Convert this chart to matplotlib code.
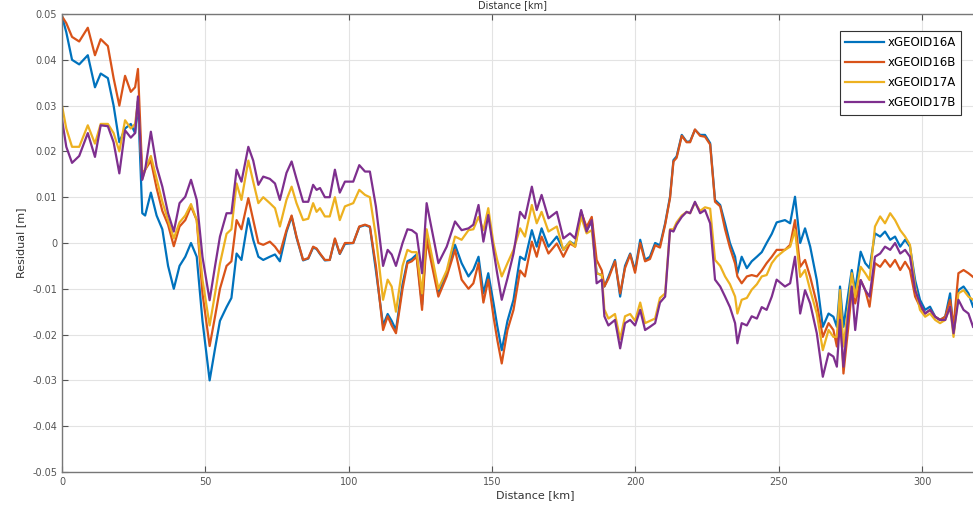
import numpy as np
import matplotlib
matplotlib.use("Agg")
import matplotlib.pyplot as plt

# distance along profile [km]
distance = [0, 1.5, 3.5, 6, 9, 11.5, 13.5, 16, 18, 20, 22, 24, 25.5, 26.5, 28, 29, 31, 33, 35, 37, 39, 41, 43, 45, 47, 49, 51.5, 53.4,
            55.1, 57.4, 59.1, 60.9, 62.6, 65.0, 66.7, 68.5, 70.2, 72.5, 74.3, 76.0, 78.3, 80.1, 81.8, 84.1, 85.9, 87.6, 88.8, 90.0,
            91.7, 93.4, 95.2, 96.9, 98.7, 101.6, 103.7, 105.7, 107.4, 109.5,
            112.0, 113.6, 115.0, 116.5, 118.8, 120.5, 122.0, 123.7, 125.6, 127.2,
            131.3, 134.2, 137.1, 139.4, 141.8, 143.5, 145.3, 147.0, 148.7, 150.5, 151.8, 153.4, 155.4, 157.5, 159.8, 161.5,
            163.9, 165.6, 167.3, 169.7, 172.6, 174.9, 177.2, 179.0, 181.1, 183.0, 184.8, 186.5, 188.3, 189.2,
            190.6, 192.9, 194.7, 196.4, 198.2, 199.9, 201.7, 203.4, 205.1, 206.9, 208.6, 210.4, 212.1, 213.3, 214.4, 216.2,
            217.9, 219.1, 220.8, 222.6, 224.3, 226.1, 227.8, 229.6, 231.3, 233.0, 234.8, 235.6, 237.1, 238.9, 240.6, 242.4,
            244.1, 245.8, 247.6, 249.3,
            252.2, 254.0, 255.7, 257.5, 259.2, 261.0, 263.3, 265.4, 267.4, 269.1, 270.3, 271.4, 272.6, 274.3, 275.5, 276.7,
            278.6, 280.2, 281.7, 283.6, 285.4, 287.1, 288.9, 290.6, 292.4, 294.1, 295.8, 297.6, 299.3, 301.1, 302.8, 304.6,
            306.3, 308.1, 309.8, 311.0, 312.7, 314.5, 316.2, 317.8]

res_16a = [0.0495, 0.046, 0.040, 0.039, 0.041, 0.034, 0.037, 0.036, 0.030, 0.022, 0.025, 0.026, 0.024, 0.031, 0.0065, 0.006,
           0.011, 0.006, 0.003, -0.005, -0.010, -0.005, -0.003, 0.000, -0.003, -0.017, -0.030, -0.023,
           -0.017, -0.014, -0.012, -0.0023, -0.0037, 0.0054, 0.0007, -0.003, -0.0037, -0.0030, -0.0025, -0.004, 0.0024, 0.0058,
           0.0012, -0.0038, -0.0034, -0.001, -0.0013, -0.0024, -0.0038, -0.0037, 0.0008, -0.0024, -0.0002, 0.0, 0.0035, 0.0039,
           0.0035, -0.006,
           -0.018, -0.0155, -0.017, -0.019, -0.009, -0.004, -0.0035, -0.0025, -0.0135, 0.002,
           -0.011, -0.0066, -0.0004, -0.0044, -0.0073, -0.0058, -0.003, -0.011, -0.0066, -0.013, -0.018, -0.0234, -0.017, -0.0124,
           -0.003, -0.0037, 0.0028, -0.0008, 0.0032, -0.0008, 0.0014, -0.0015, 0.0003, -0.0004, 0.0068, 0.0028, 0.0047, -0.0066,
           -0.007, -0.0095,
           -0.0074, -0.0037, -0.0117, -0.005, -0.0023, -0.006, 0.0007, -0.0037, -0.003, 0.0, -0.0005, 0.0043, 0.0101, 0.0181,
           0.0189, 0.0236, 0.0221, 0.0222, 0.0247, 0.0236, 0.0236, 0.0218, 0.0094, 0.0083, 0.0043, 0.0, -0.003, -0.0066, -0.003,
           -0.0055, -0.004, -0.003, -0.002, 0.0, 0.002, 0.0045,
           0.005, 0.0043, 0.0101, 0.0, 0.0032, -0.0008, -0.0081, -0.0183, -0.0154, -0.0161, -0.0183, -0.0095, -0.0183, -0.011,
           -0.0059, -0.0103, -0.0019, -0.0044, -0.0055, 0.0021, 0.0014, 0.0025, 0.0007, 0.0014, -0.0008, 0.0007, -0.0008,
           -0.0081, -0.0124, -0.0146, -0.0139, -0.0161, -0.0168, -0.0161, -0.011, -0.0197, -0.0103, -0.0095, -0.011, -0.0139]

res_16b = [0.0495, 0.048, 0.045, 0.044, 0.047, 0.041, 0.0445, 0.043, 0.036, 0.030, 0.0365, 0.033, 0.034, 0.038, 0.015, 0.016,
           0.018, 0.012, 0.007, 0.004, -0.0007, 0.0036, 0.005, 0.008, 0.005, -0.011, -0.0225, -0.016,
           -0.010, -0.005, -0.004, 0.005, 0.003, 0.0098, 0.005, 0.0, -0.0004, 0.0003, -0.0008, -0.0023, 0.0028, 0.006, 0.0014,
           -0.0037, -0.0033, -0.0008, -0.0012, -0.0023, -0.0037, -0.0037, 0.001, -0.0023, 0.0, 0.0, 0.0036, 0.004, 0.0036, -0.005,
           -0.019, -0.016, -0.018, -0.0197, -0.010, -0.0044, -0.004, -0.003, -0.0146, 0.0007,
           -0.0117, -0.0073, -0.0015, -0.008, -0.010, -0.0088, -0.0044, -0.013, -0.008, -0.016, -0.021, -0.0263, -0.019, -0.0146,
           -0.006, -0.0073, 0.0003, -0.003, 0.0014, -0.0023, -0.0001, -0.003, -0.0001, -0.0008, 0.0068, 0.0035, 0.0057, -0.0037,
           -0.006, -0.0095,
           -0.0078, -0.004, -0.011, -0.0055, -0.0025, -0.0065, 0.0, -0.004, -0.0035, -0.0005, -0.001, 0.004, 0.0098, 0.0178,
           0.0186, 0.0234, 0.022, 0.022, 0.0248, 0.0234, 0.0232, 0.0215, 0.009, 0.008, 0.003, -0.001, -0.0045, -0.0073, -0.0088,
           -0.0073, -0.007, -0.0073, -0.006, -0.0044, -0.003, -0.0015,
           -0.0015, -0.0004, 0.005, -0.0052, -0.0037, -0.0074, -0.0132, -0.0205, -0.0175, -0.019, -0.0226, -0.0139, -0.0285,
           -0.0183, -0.0103, -0.0132, -0.0081, -0.0103, -0.0139, -0.0044, -0.0052, -0.0037, -0.0052, -0.0037, -0.0059, -0.0041,
           -0.0059, -0.0117, -0.0139, -0.0154, -0.0146, -0.0161, -0.0168, -0.0161, -0.0124, -0.0183, -0.0066, -0.0059, -0.0066,
           -0.0074]

res_17a = [0.030, 0.025, 0.021, 0.021, 0.0257, 0.0217, 0.026, 0.026, 0.024, 0.020, 0.0268, 0.025, 0.026, 0.031, 0.014, 0.016,
           0.019, 0.014, 0.009, 0.005, 0.001, 0.0045, 0.006, 0.0085, 0.005, -0.008, -0.018, -0.011,
           -0.0045, 0.002, 0.003, 0.013, 0.0094, 0.018, 0.0134, 0.0087, 0.010, 0.0087, 0.0076, 0.0036, 0.0094, 0.0123, 0.0087,
           0.005, 0.0053, 0.0087, 0.0068, 0.0076, 0.0058, 0.0058, 0.010, 0.005, 0.008, 0.0087, 0.0116, 0.0105, 0.010, 0.0014,
           -0.0124, -0.008, -0.0095, -0.015, -0.005, -0.0015, -0.002, -0.002, -0.011, 0.003,
           -0.010, -0.006, 0.0014, 0.0007, 0.0028, 0.003, 0.0057, 0.0028, 0.0076, 0.0, -0.0037, -0.0073, -0.0044, -0.0015,
           0.0032, 0.0014, 0.0083, 0.0043, 0.0068, 0.0025, 0.0036, -0.0015, 0.0003, -0.0008, 0.0057, 0.0021, 0.0028, -0.0066,
           -0.007, -0.0145,
           -0.0165, -0.0155, -0.021, -0.016, -0.0155, -0.017, -0.013, -0.0175, -0.017, -0.0165, -0.012, -0.011, 0.003, 0.003,
           0.0045, 0.006, 0.0068, 0.0065, 0.0088, 0.007, 0.0078, 0.0075, -0.0037, -0.005, -0.0073, -0.009, -0.0117, -0.0154,
           -0.0124, -0.012, -0.0102, -0.009, -0.0073, -0.007, -0.0044, -0.003,
           -0.0015, -0.0008, 0.0028, -0.0074, -0.0059, -0.0103, -0.0154, -0.0234, -0.019, -0.0205, -0.0205, -0.0103, -0.0226,
           -0.0139, -0.0066, -0.0117, -0.0052, -0.0066, -0.0081, 0.0036, 0.0058, 0.0043, 0.0065, 0.005, 0.0028, 0.0014, -0.0004,
           -0.0095, -0.0146, -0.0161, -0.0154, -0.0168, -0.0175, -0.0168, -0.0139, -0.0205, -0.011, -0.0103, -0.0117, -0.0124]

res_17b = [0.027, 0.021, 0.0175, 0.019, 0.024, 0.0188, 0.0257, 0.0255, 0.022, 0.0152, 0.0246, 0.023, 0.024, 0.032, 0.0138,
           0.016, 0.0243, 0.0167, 0.0123, 0.0065, 0.0025, 0.0087, 0.0101, 0.0138, 0.0094, -0.003, -0.0125, -0.005,
           0.0014, 0.0065, 0.0065, 0.016, 0.0134, 0.021, 0.018, 0.0127, 0.0145, 0.014, 0.013, 0.0094, 0.0153, 0.0178, 0.014,
           0.009, 0.009, 0.0127, 0.0116, 0.012, 0.010, 0.010, 0.016, 0.011, 0.0134, 0.0134, 0.017, 0.0156, 0.0156, 0.008,
           -0.005, -0.0015, -0.0025, -0.005, 0.0, 0.003, 0.0028, 0.002, -0.0066, 0.0087,
           -0.0044, -0.0008, 0.0047, 0.0028, 0.0032, 0.004, 0.0083, 0.0003, 0.0061, -0.0015, -0.0066, -0.0124, -0.0077, -0.0023,
           0.0068, 0.0054, 0.0123, 0.0072, 0.0105, 0.0054, 0.0068, 0.001, 0.0021, 0.001, 0.0072, 0.0025, 0.005, -0.0088,
           -0.008, -0.016,
           -0.018, -0.0168, -0.023, -0.0175, -0.0168, -0.018, -0.0146, -0.019, -0.0183, -0.0175, -0.013, -0.0117, 0.0028, 0.0025,
           0.004, 0.0057, 0.0068, 0.0065, 0.009, 0.0065, 0.0072, 0.0043, -0.008, -0.0095, -0.0117, -0.014, -0.0175, -0.0219,
           -0.0175, -0.018, -0.016, -0.0165, -0.014, -0.0146, -0.0117, -0.008,
           -0.0095, -0.0088, -0.003, -0.0154, -0.0103, -0.0132, -0.0197, -0.0292, -0.0241, -0.0248, -0.027, -0.0168, -0.027,
           -0.0154, -0.0095, -0.019, -0.0081, -0.0103, -0.0117, -0.003, -0.0023, -0.0008, -0.0015, 0.0, -0.0023, -0.0015, -0.003,
           -0.0103, -0.0132, -0.0154, -0.0146, -0.0161, -0.0168, -0.0168, -0.0139, -0.0197, -0.0124, -0.0146, -0.0154, -0.0183]

labels = ["xGEOID16A", "xGEOID16B", "xGEOID17A", "xGEOID17B"]
colors = ["#0072BD", "#D95319", "#EDB120", "#7E2F8E"]

fig = plt.figure(figsize=(9.73, 5.12), dpi=100)
# axes runs past the right edge, like the cropped screenshot
ax = fig.add_axes([62/973, 1 - 472/512, 946/973, 458/512])

for res, lab, col in zip([res_16a, res_16b, res_17a, res_17b], labels, colors):
    ax.plot(distance, res, color=col, lw=1.6, label=lab)

ax.set_xlim(0, 330)
ax.set_ylim(-0.05, 0.05)
ax.set_xticks(np.arange(0, 301, 50))
ax.set_yticks(np.arange(-0.05, 0.051, 0.01))
ax.set_yticklabels(["-0.05", "-0.04", "-0.03", "-0.02", "-0.01", "0",
                    "0.01", "0.02", "0.03", "0.04", "0.05"])
ax.grid(True, color="#e3e3e3", lw=0.8)
ax.set_axisbelow(True)
ax.tick_params(direction="in", top=True, right=True, labelsize=7, colors="#555555", length=4)
for s in ax.spines.values():
    s.set_color("#777777")
    s.set_linewidth(1.0)

ax.set_xlabel("Distance [km]", fontsize=8, color="#333333", labelpad=2)
ax.set_ylabel("Residual [m]", fontsize=8, color="#333333", labelpad=4)

# x label of the plot above, at the very top edge
fig.text(512/973, 0.999, "Distance [km]", fontsize=7, color="#333333", ha="center", va="top")

leg = ax.legend(loc="upper right", bbox_to_anchor=(967/973, 1 - 25/512), bbox_transform=fig.transFigure,
                fontsize=8.5, handlelength=3.3, labelspacing=0.6, borderpad=0.45, handletextpad=0.3,
                fancybox=False, framealpha=1)
leg.get_frame().set_edgecolor("#333333")
leg.get_frame().set_linewidth(0.8)

fig.savefig("out.png", dpi=100)
